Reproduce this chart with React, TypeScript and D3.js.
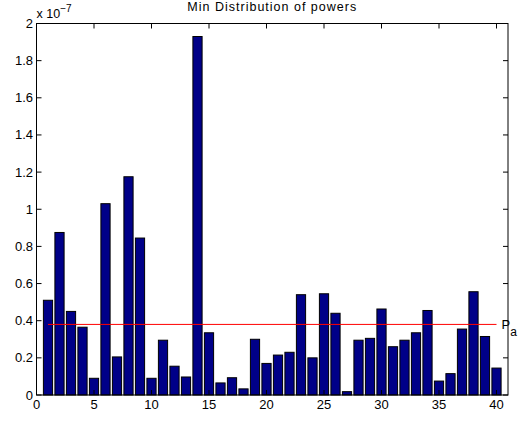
import React, { useEffect, useRef } from 'react';
import * as d3 from 'd3';

// bar heights, in units of 1e-7
const powers = [
  0.51, 0.875, 0.45, 0.365, 0.09, 1.03, 0.205, 1.175, 0.845, 0.09,
  0.295, 0.155, 0.097, 1.93, 0.335, 0.065, 0.093, 0.033, 0.3, 0.17,
  0.215, 0.23, 0.54, 0.2, 0.545, 0.44, 0.018, 0.295, 0.305, 0.463,
  0.26, 0.295, 0.335, 0.455, 0.075, 0.115, 0.355, 0.556, 0.315, 0.145,
];
const threshold = 0.38;
const xTicks = [0, 5, 10, 15, 20, 25, 30, 35, 40];
const yTicks = [0, 0.2, 0.4, 0.6, 0.8, 1, 1.2, 1.4, 1.6, 1.8, 2];

const App = () => {
  const svgRef = useRef<SVGSVGElement>(null);

  useEffect(() => {
    const width = 518;
    const height = 421;
    const margin = { top: 23.5, right: 10, bottom: 26, left: 36.5 };
    const font = 'Liberation Sans, Arial, sans-serif';

    const svg = d3.select(svgRef.current);
    svg.selectAll('*').remove();
    svg.attr('width', width).attr('height', height);

    const x = d3.scaleLinear()
      .domain([0, 41])
      .range([margin.left, width - margin.right]);

    const y = d3.scaleLinear()
      .domain([0, 2])
      .range([height - margin.bottom, margin.top]);

    const barW = x(0.8) - x(0);

    // Draw the bars
    svg.append('g')
      .selectAll('rect')
      .data(powers)
      .join('rect')
      .attr('x', (d, i) => x(i + 1) - barW / 2)
      .attr('y', d => y(d))
      .attr('width', barW)
      .attr('height', d => y(0) - y(d))
      .attr('fill', '#000088')
      .attr('stroke', '#000')
      .attr('stroke-width', 1);

    // Threshold line
    svg.append('line')
      .attr('x1', x(1))
      .attr('x2', x(powers.length))
      .attr('y1', y(threshold))
      .attr('y2', y(threshold))
      .attr('stroke', '#ff0000')
      .attr('stroke-width', 1);

    const pa = svg.append('text')
      .attr('x', x(powers.length) + 5)
      .attr('y', y(threshold) + 5)
      .attr('font-family', font)
      .attr('font-size', 13);
    pa.append('tspan').text('P');
    pa.append('tspan').attr('dy', 7).attr('font-size', 12).text('a');

    // Box and ticks (inward, on all four sides)
    const left = x(0), right = x(41), top = y(2), bottom = y(0);
    const tk = 5;

    const axes = svg.append('g').attr('stroke', '#000').attr('stroke-width', 1);
    axes.append('rect')
      .attr('x', left).attr('y', top)
      .attr('width', right - left).attr('height', bottom - top)
      .attr('fill', 'none');

    axes.selectAll('.xt')
      .data(xTicks)
      .join('g')
      .each(function (d) {
        const g = d3.select(this);
        g.append('line').attr('x1', x(d)).attr('x2', x(d)).attr('y1', bottom).attr('y2', bottom - tk);
        g.append('line').attr('x1', x(d)).attr('x2', x(d)).attr('y1', top).attr('y2', top + tk);
      });

    axes.selectAll('.yt')
      .data(yTicks)
      .join('g')
      .each(function (d) {
        const g = d3.select(this);
        g.append('line').attr('x1', left).attr('x2', left + tk).attr('y1', y(d)).attr('y2', y(d));
        g.append('line').attr('x1', right).attr('x2', right - tk).attr('y1', y(d)).attr('y2', y(d));
      });

    // Tick labels
    svg.append('g')
      .selectAll('text')
      .data(xTicks)
      .join('text')
      .attr('x', d => x(d))
      .attr('y', bottom + 13.5)
      .attr('text-anchor', 'middle')
      .attr('font-family', font)
      .attr('font-size', 13)
      .text(d => d);

    svg.append('g')
      .selectAll('text')
      .data(yTicks)
      .join('text')
      .attr('x', left - 3.5)
      .attr('y', d => y(d) + 4.5)
      .attr('text-anchor', 'end')
      .attr('font-family', font)
      .attr('font-size', 13)
      .text(d => d);

    // Exponent label
    const ex = svg.append('text')
      .attr('x', left)
      .attr('y', 18)
      .attr('font-family', font)
      .attr('font-size', 12.5);
    ex.append('tspan').text('x 10');
    ex.append('tspan').attr('dy', -6).attr('font-size', 10).text('\u22127');

    // Title
    svg.append('text')
      .attr('x', (left + right) / 2)
      .attr('y', 10.5)
      .attr('text-anchor', 'middle')
      .attr('font-family', font)
      .attr('font-size', 12.5)
      .attr('letter-spacing', 1)
      .text('Min Distribution of powers');
  }, []);

  return <svg ref={svgRef} style={{ position: 'absolute', left: 0, top: 0 }}></svg>;
};

export default App;
